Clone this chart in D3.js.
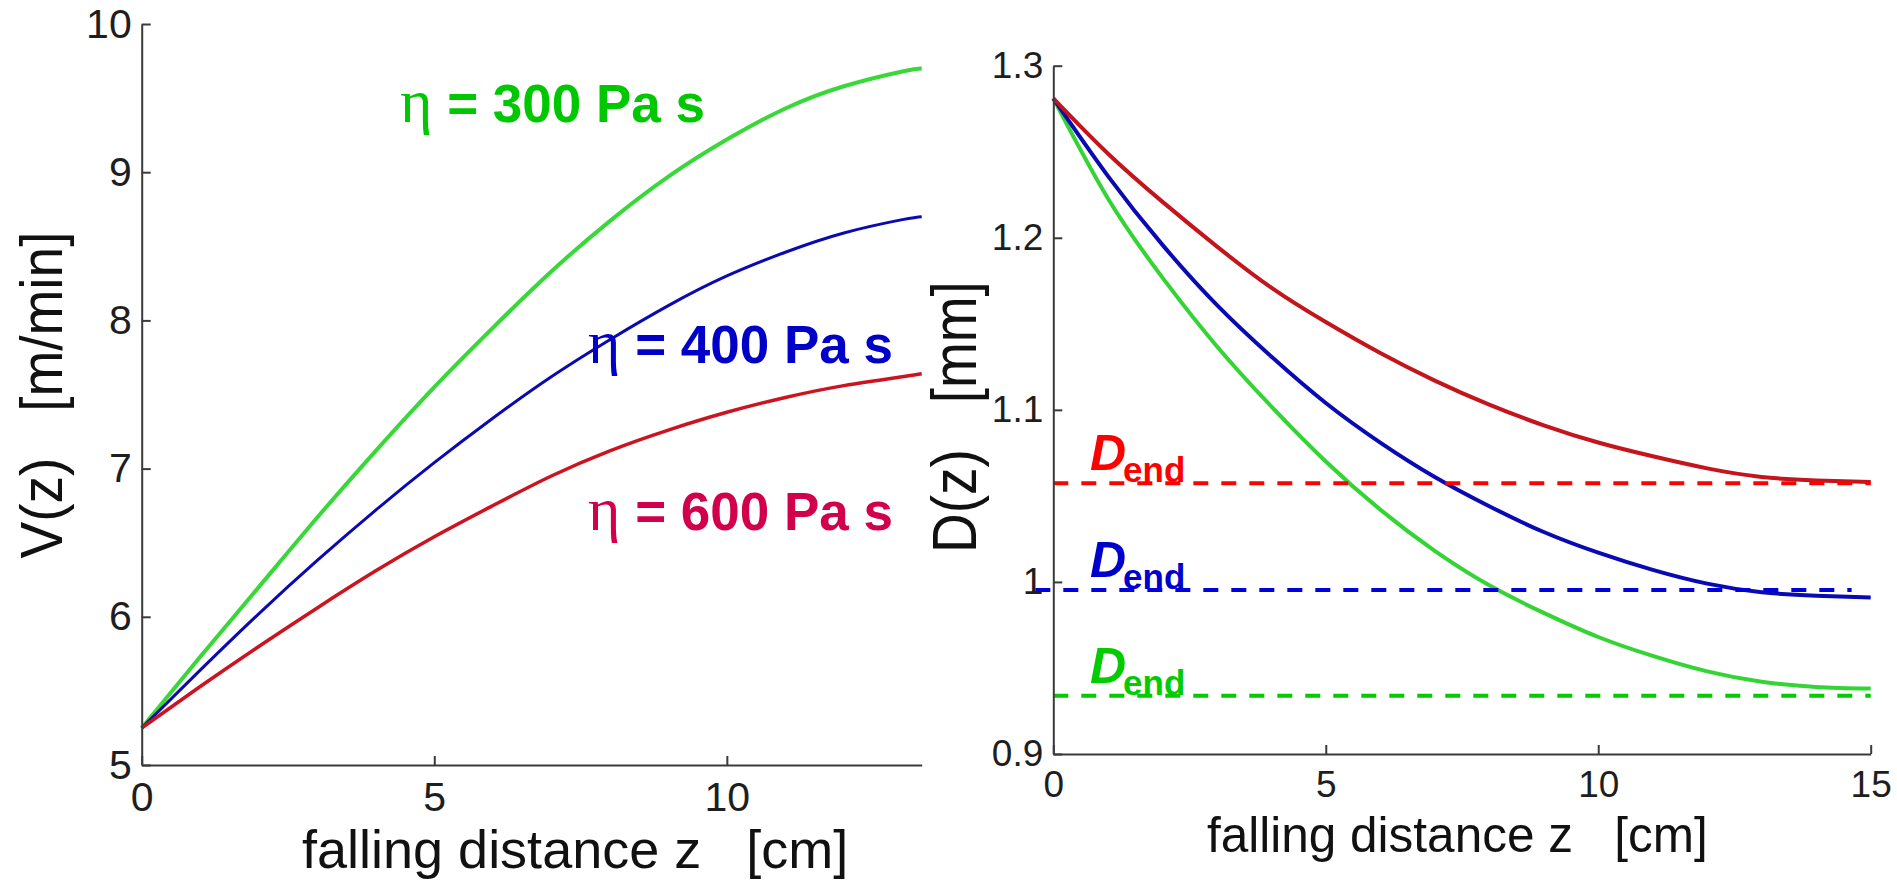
<!DOCTYPE html>
<html>
<head>
<meta charset="utf-8">
<script src="https://cdn.jsdelivr.net/npm/d3@7"></script>
<style>
  body { margin: 0; background: #fff; }
  svg { display: block; font-family: "Liberation Sans", Arial, sans-serif; }
  .tick line, .domain { stroke: #3a3a3a; stroke-width: 2px; }
  .tick text { fill: #1e1e1e; }
</style>
</head>
<body>
<div id="chart"></div>
<script>
// ---- data ----
// left panel: velocity V(z) [m/min] vs falling distance z [cm]
let vZ = [0, 1, 2, 3, 4, 5, 6, 7, 8, 9, 10, 11, 12, 13, 13.33];
let vGreen = [5.25, 5.73, 6.20, 6.67, 7.12, 7.55, 7.95, 8.33, 8.67, 8.97, 9.22, 9.43, 9.58, 9.68, 9.70];
let vBlue = [5.25, 5.64, 6.02, 6.38, 6.72, 7.04, 7.34, 7.62, 7.87, 8.10, 8.30, 8.46, 8.59, 8.68, 8.70];
let vRed = [5.25, 5.53, 5.80, 6.06, 6.31, 6.54, 6.75, 6.95, 7.12, 7.26, 7.38, 7.48, 7.56, 7.62, 7.64];
let viscosity = [300, 400, 600];

// right panel: diameter D(z) [mm] vs falling distance z [cm]
let dZ = [0, 1, 2, 3, 4, 5, 6, 7, 8, 9, 10, 11, 12, 13, 14, 15];
let dRed = [1.281, 1.249, 1.221, 1.195, 1.171, 1.151, 1.133, 1.117, 1.103, 1.091, 1.081, 1.073, 1.066, 1.061, 1.059, 1.058];
let dBlue = [1.281, 1.236, 1.196, 1.161, 1.131, 1.104, 1.081, 1.061, 1.044, 1.029, 1.017, 1.007, 0.999, 0.994, 0.992, 0.991];
let dGreen = [1.281, 1.223, 1.177, 1.137, 1.102, 1.070, 1.042, 1.018, 0.998, 0.982, 0.968, 0.957, 0.948, 0.942, 0.939, 0.938];
// final diameters (red, blue, green) and extent of their dashed lines
let dEnd = [1.0573, 0.9953, 0.9339];
let dEndFrom = [0, -0.33, 0];
let dEndTo = [15, 14.65, 15];

let vTicksY = [5, 6, 7, 8, 9, 10];
let vTicksX = [0, 5, 10];
let dTicksY = [0.9, 1, 1.1, 1.2, 1.3];
let dTicksX = [0, 5, 10, 15];

let svgWidth = 1897;
let svgHeight = 884;

let svg = d3.select("#chart")
  .append("svg")
  .attr("width", svgWidth)
  .attr("height", svgHeight);

svg.append("rect").attr("width", svgWidth).attr("height", svgHeight).attr("fill", "#fff");

// ---- left panel ----
let xV = d3.scaleLinear().domain([0, 13.33]).range([141.7, 921.7]);
let yV = d3.scaleLinear().domain([5, 10]).range([765, 24]);

let lineV = d3.line()
  .x(d => xV(d[0]))
  .y(d => yV(d[1]))
  .curve(d3.curveNatural);

let vSeries = [
  {vals: vGreen, color: "#38d838", w: 4},
  {vals: vBlue, color: "#0a0ab0", w: 3},
  {vals: vRed, color: "#cc1420", w: 3.5}
];

vSeries.forEach(function(s) {
  svg.append("path")
    .datum(vZ.map((z, i) => [z, s.vals[i]]))
    .attr("d", lineV)
    .attr("fill", "none")
    .attr("stroke", s.color)
    .attr("stroke-width", s.w);
});

svg.append("g")
  .attr("transform", `translate(0, ${yV(5)})`)
  .style("font-size", "41px")
  .call(d3.axisBottom(xV).tickValues(vTicksX).tickFormat(d => d).tickSizeInner(-9).tickSizeOuter(0).tickPadding(17))
  .attr("font-family", null);

svg.append("g")
  .attr("transform", `translate(${xV(0)}, 0)`)
  .style("font-size", "41px")
  .call(d3.axisLeft(yV).tickValues(vTicksY).tickFormat(d => d).tickSizeInner(-9).tickSizeOuter(0).tickPadding(10))
  .attr("font-family", null);

svg.append("text")
  .attr("x", 302)
  .attr("y", 868)
  .style("font-size", "54px")
  .style("white-space", "pre")
  .attr("fill", "#111")
  .text("falling distance z   [cm]");

svg.append("text")
  .attr("transform", "translate(62, 395) rotate(-90) scale(1, 1.07)")
  .attr("text-anchor", "middle")
  .style("font-size", "55px")
  .style("white-space", "pre")
  .attr("fill", "#111")
  .text("V(z)   [m/min]");

// viscosity labels
let etaLabels = [
  {x: 400, y: 121.7, color: "#00c800"},
  {x: 588, y: 363.3, color: "#0000c8"},
  {x: 588, y: 530.4, color: "#d2004c"}
];

etaLabels.forEach(function(l, i) {
  let t = svg.append("text")
    .attr("x", l.x)
    .attr("y", l.y)
    .attr("fill", l.color)
    .style("font-size", "53px")
    .style("white-space", "pre");
  t.append("tspan")
    .style("font-family", "'Liberation Serif', 'DejaVu Serif', serif")
    .style("font-size", "62px")
    .text("η");
  t.append("tspan")
    .style("font-weight", "bold")
    .text(` = ${viscosity[i]} Pa s`);
});

// ---- right panel ----
let xD = d3.scaleLinear().domain([0, 15]).range([1053.3, 1870.7]);
let yD = d3.scaleLinear().domain([0.9, 1.3]).range([754, 65.7]);

let lineD = d3.line()
  .x(d => xD(d[0]))
  .y(d => yD(d[1]))
  .curve(d3.curveNatural);

let dSeries = [
  {vals: dGreen, color: "#33d433"},
  {vals: dBlue, color: "#0a0ab4"},
  {vals: dRed, color: "#c4141c"}
];

dSeries.forEach(function(s) {
  svg.append("path")
    .datum(dZ.map((z, i) => [z, s.vals[i]]))
    .attr("d", lineD)
    .attr("fill", "none")
    .attr("stroke", s.color)
    .attr("stroke-width", 4);
});

let endColors = ["#ff0000", "#0000dd", "#00cc00"];
let endTextColors = ["#ff0000", "#0000cc", "#00cc00"];

svg.selectAll(".dend")
  .data(dEnd)
  .enter()
  .append("line")
  .attr("class", "dend")
  .attr("x1", (d, i) => xD(dEndFrom[i]))
  .attr("x2", (d, i) => xD(dEndTo[i]))
  .attr("y1", d => yD(d))
  .attr("y2", d => yD(d))
  .attr("stroke", (d, i) => endColors[i])
  .attr("stroke-width", 4)
  .attr("stroke-dasharray", "15,13");

// D_end labels sit just above their dashed lines
dEnd.forEach(function(d, i) {
  let t = svg.append("text")
    .attr("x", 1090)
    .attr("y", yD(d) - 13)
    .attr("fill", endTextColors[i])
    .style("font-weight", "bold");
  t.append("tspan")
    .style("font-style", "italic")
    .style("font-size", "50px")
    .text("D");
  t.append("tspan")
    .attr("dx", -3)
    .attr("dy", 12)
    .style("font-size", "35px")
    .text("end");
});

svg.append("g")
  .attr("transform", `translate(0, ${yD(0.9)})`)
  .style("font-size", "37px")
  .call(d3.axisBottom(xD).tickValues(dTicksX).tickFormat(d => d).tickSizeInner(-9).tickSizeOuter(0).tickPadding(17))
  .attr("font-family", null);

svg.append("g")
  .attr("transform", `translate(${xD(0)}, 0)`)
  .style("font-size", "37px")
  .call(d3.axisLeft(yD).tickValues(dTicksY).tickFormat(d => d).tickSizeInner(-9).tickSizeOuter(0).tickPadding(10))
  .attr("font-family", null);

svg.append("text")
  .attr("x", 1207)
  .attr("y", 852)
  .style("font-size", "49.5px")
  .style("white-space", "pre")
  .attr("fill", "#111")
  .text("falling distance z   [cm]");

svg.append("text")
  .attr("transform", "translate(976, 417) rotate(-90) scale(1, 1.15)")
  .attr("text-anchor", "middle")
  .style("font-size", "55px")
  .style("white-space", "pre")
  .attr("fill", "#111")
  .text("D(z)   [mm]");
</script>
</body>
</html>
